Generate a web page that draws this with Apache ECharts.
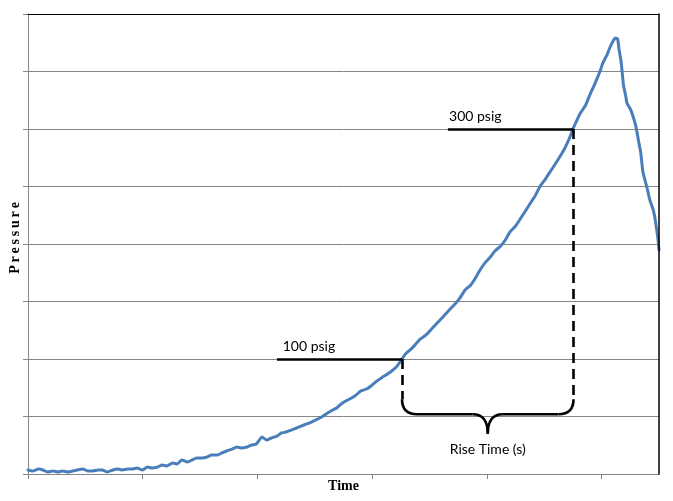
<!DOCTYPE html>
<html><head><meta charset="utf-8">
<script src="https://cdn.jsdelivr.net/npm/echarts@6/dist/echarts.min.js"></script>
<style>html,body{margin:0;padding:0;background:#fff}#c{width:673px;height:501px}</style>
</head><body><div id="c"></div>
<script>
// ---- data (time in s, pressure in psig) ----
const time = [0.00,0.04,0.09,0.13,0.17,0.22,0.26,0.30,0.35,0.39,0.43,0.48,0.52,0.56,0.61,0.65,0.69,0.74,0.78,0.82,0.87,0.91,0.95,1.00,1.04,1.08,1.13,1.17,1.21,1.26,1.30,1.34,1.39,1.43,1.47,1.52,1.56,1.60,1.65,1.69,1.73,1.78,1.82,1.86,1.91,1.95,1.99,2.04,2.08,2.12,2.17,2.21,2.25,2.30,2.34,2.38,2.43,2.47,2.51,2.56,2.60,2.64,2.69,2.73,2.77,2.82,2.86,2.90,2.95,2.99,3.03,3.08,3.12,3.16,3.21,3.25,3.26,3.29,3.34,3.38,3.42,3.47,3.51,3.55,3.60,3.64,3.68,3.73,3.77,3.81,3.86,3.90,3.94,3.99,4.03,4.07,4.12,4.16,4.20,4.25,4.29,4.33,4.38,4.42,4.46,4.51,4.55,4.59,4.64,4.68,4.72,4.75,4.77,4.81,4.86,4.90,4.94,4.99,5.01,5.05,5.07,5.10,5.12,5.14,5.15,5.17,5.19,5.21,5.22,5.25,5.27,5.30,5.32,5.34,5.36,5.40,5.42,5.45,5.47,5.49,5.50];
const pressure = [3.5,2.6,4.3,3.5,1.7,2.6,1.7,2.6,1.7,2.6,3.5,4.3,2.6,2.6,3.5,3.5,1.7,3.5,4.3,3.5,4.3,4.3,5.2,3.5,6.1,5.2,6.1,7.8,7.0,9.6,8.7,12.2,10.4,12.2,13.9,13.9,14.8,16.5,16.5,18.3,20.0,21.7,23.5,22.6,23.5,25.2,26.1,32.2,29.6,31.3,33.0,35.7,36.5,38.3,40.0,41.7,43.5,45.2,47.0,49.6,52.2,54.8,57.4,60.9,63.5,66.1,68.7,72.2,73.9,76.5,80.0,83.5,86.1,88.7,93.0,98.3,100.0,104.4,108.7,113.0,117.4,120.9,125.2,129.6,134.8,139.1,143.5,148.7,153.9,160.0,164.4,170.4,177.4,184.4,188.7,193.9,198.3,203.5,210.4,215.7,221.7,227.8,235.7,241.7,249.6,256.5,262.6,268.7,276.5,283.5,292.2,300.0,304.4,313.0,320.7,330.4,339.1,351.3,357.3,365.2,370.4,376.5,379.1,378.3,370.4,358.3,338.3,328.7,322.6,317.4,312.2,301.7,290.4,280.0,262.6,247.0,238.3,229.6,219.2,205.2,194.8];
const xTicks = [0,1,2,3,4,5];
const xName = 'Time';
const yName = 'P\u2009r\u2009e\u2009s\u2009s\u2009u\u2009r\u2009e';
// annotation values
const refLevels = [100, 300];
const refLabels = ['100 psig', '300 psig'];
const refStartTimes = [2.17, 3.66];
const refLabelTimes = [2.22, 3.67];
const crossTimes = [3.26, 4.755];
const braceTop = 65, braceBar = 52, braceTip = 35;
const braceLabel = 'Rise Time (s)';

const gray = '#868686';
const pts = time.map((t,i)=>[t, pressure[i]]);

const markData = [];
refLevels.forEach((lv,i)=>{
  markData.push([{coord:[refStartTimes[i], lv], lineStyle:{type:'solid', width:2.6, color:'#000'}},{coord:[crossTimes[i], lv]}]);
  markData.push([{coord:[crossTimes[i], lv], lineStyle:{type:[10,6], width:2.6, color:'#000'}},{coord:[crossTimes[i], braceTop]}]);
});

const chart = echarts.init(document.getElementById('c'), null, {renderer:'canvas'});
const option = {
  animation:false,
  backgroundColor:'#fff',
  grid:{left:25, right:14, top:14, bottom:27, containLabel:false},
  xAxis:[{
    type:'value', min:0, max:5.5, interval:1,
    name:xName, nameLocation:'middle', nameGap:5,
    nameTextStyle:{fontFamily:'Liberation Serif', fontWeight:'bold', fontSize:14, color:'#000', verticalAlign:'top'},
    axisLine:{show:true, onZero:false, lineStyle:{color:gray, width:1}},
    axisTick:{show:true, length:5, customValues:xTicks, lineStyle:{color:gray}},
    axisLabel:{show:false},
    splitLine:{show:false}
  },{
    type:'value', position:'top', min:0, max:5.5, z:5,
    axisLine:{show:true, onZero:false, lineStyle:{color:'#000', width:1.2}},
    axisTick:{show:false}, axisLabel:{show:false}, splitLine:{show:false}
  }],
  yAxis:[{
    type:'value', min:0, max:400, interval:50,
    name:yName, nameLocation:'middle', nameGap:6,
    nameTextStyle:{fontFamily:'Liberation Serif', fontWeight:'bold', fontSize:14, color:'#000', padding:[0,0,0,12]},
    axisLine:{show:true, onZero:false, lineStyle:{color:gray, width:1}},
    axisTick:{show:true, length:5, lineStyle:{color:gray}},
    axisLabel:{show:false},
    splitLine:{show:true, lineStyle:{color:gray, width:1}}
  },{
    type:'value', position:'right', min:0, max:400, z:5,
    axisLine:{show:true, onZero:false, lineStyle:{color:'#000', width:1.5}},
    axisTick:{show:false}, axisLabel:{show:false}, splitLine:{show:false}
  }],
  series:[{
    type:'line', data:pts, xAxisIndex:0, yAxisIndex:0,
    showSymbol:false, smooth:0.15,
    lineStyle:{color:'#4a7ebb', width:3, join:'round', cap:'round'},
    z:3,
    markLine:{silent:true, symbol:['none','none'], label:{show:false}, animation:false, data:markData, z:4}
  }]
};
chart.setOption(option);

const px = (t,p) => chart.convertToPixel({seriesIndex:0}, [t,p]);
const g = [];
const [xl, yT] = px(crossTimes[0], braceTop);
const [xr] = px(crossTimes[1], braceTop);
const yB = px(0, braceBar)[1];
const yP = px(0, braceTip)[1];
const xm = (xl+xr)/2, r = 15;
const bs = {stroke:'#000', lineWidth:2.6, fill:null};
const curve = (x1,y1,cx,cy,x2,y2) => ({type:'bezierCurve', z:10, shape:{x1:x1,y1:y1,cpx1:cx,cpy1:cy,x2:x2,y2:y2}, style:bs});
const seg = (x1,y1,x2,y2) => ({type:'line', z:10, shape:{x1:x1,y1:y1,x2:x2,y2:y2}, style:bs});
g.push(curve(xl,yT, xl,yB, xl+r,yB));
g.push(seg(xl+r,yB, xm-r,yB));
g.push(curve(xm-r,yB, xm,yB, xm,yP));
g.push(curve(xm,yP, xm,yB, xm+r,yB));
g.push(seg(xm+r,yB, xr-r,yB));
g.push(curve(xr-r,yB, xr,yB, xr,yT));
refLevels.forEach((lv,i)=>{
  const [sx, sy] = px(refLabelTimes[i], lv);
  g.push({type:'text', x:sx, y:sy-12.5, z:10, style:{text:refLabels[i], fontFamily:'Lato', fontSize:14, fill:'#000', align:'left', verticalAlign:'middle'}});
});
g.push({type:'text', x:xm, y:yP+16, z:10, style:{text:braceLabel, fontFamily:'Lato', fontSize:14, fill:'#000', align:'center', verticalAlign:'middle'}});
chart.setOption({graphic:{elements:g}});
</script>
</body></html>
